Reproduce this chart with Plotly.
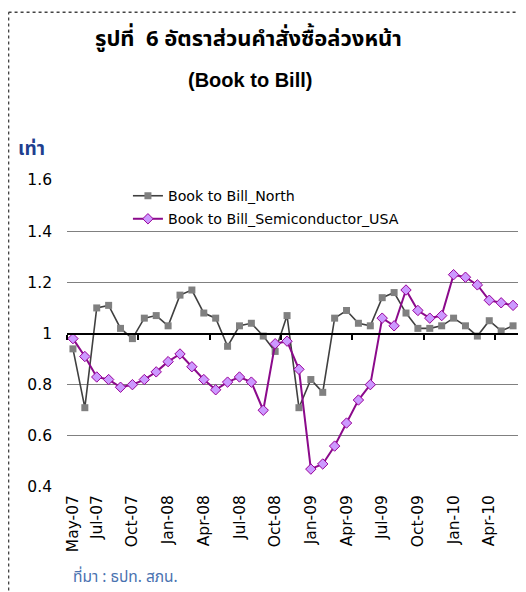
import plotly.graph_objects as go
import pandas as pd

# ---- data ----
months = [d.strftime("%b-%y") for d in pd.date_range("2007-05-01", periods=38, freq="MS")]
north = [0.94, 0.71, 1.10, 1.11, 1.02, 0.98, 1.06, 1.07, 1.03, 1.15, 1.17, 1.08, 1.06,
         0.95, 1.03, 1.04, 0.99, 0.93, 1.07, 0.71, 0.82, 0.77, 1.06, 1.09, 1.04, 1.03,
         1.14, 1.16, 1.08, 1.02, 1.02, 1.03, 1.06, 1.03, 0.99, 1.05, 1.01, 1.03]
semi = [0.98, 0.91, 0.83, 0.82, 0.79, 0.80, 0.82, 0.85, 0.89, 0.92, 0.87, 0.82, 0.78,
        0.81, 0.83, 0.81, 0.70, 0.96, 0.97, 0.86, 0.47, 0.49, 0.56, 0.65, 0.74, 0.80,
        1.06, 1.03, 1.17, 1.09, 1.06, 1.07, 1.23, 1.22, 1.19, 1.13, 1.12, 1.11]
tick_labels = ["May-07", "Jul-07", "Oct-07", "Jan-08", "Apr-08", "Jul-08", "Oct-08",
               "Jan-09", "Apr-09", "Jul-09", "Oct-09", "Jan-10", "Apr-10"]
y_ticks = [0.4, 0.6, 0.8, 1.0, 1.2, 1.4, 1.6]
y_tick_text = ["0.4", "0.6", "0.8", "1", "1.2", "1.4", "1.6"]
y_min, y_max, x_axis_cross = 0.4, 1.6, 1.0

# page body has an 8px margin; compensate so the figure fills the window exactly
OFF = 8
W, H = 526 - OFF, 592 - OFF
# plot area in window pixels
PL, PR, PT, PB = 67, 519.5, 180, 486.7
ML, MR, MT, MB = PL - OFF, (W + OFF) - PR, PT - OFF, (H + OFF) - PB
PW = PR - PL
PH = PB - PT

def px_x(p):
    return (p - PL) / PW

def px_y(p):
    return (PB - p) / PH

FONT = "Tahoma, DejaVu Sans, sans-serif"
THAI = "Tahoma, Noto Sans Thai, Loma, Garuda, sans-serif"

fig = go.Figure()
fig.add_trace(go.Scatter(
    x=months, y=north, name="Book to Bill_North", mode="lines+markers",
    line=dict(color="#404040", width=1.6),
    marker=dict(symbol="square", size=7, color="#808080", line=dict(width=0)),
    legend="legend",
))
fig.add_trace(go.Scatter(
    x=months, y=semi, name="Book to Bill_Semiconductor_USA", mode="lines+markers",
    line=dict(color="#8B0A8B", width=2),
    marker=dict(symbol="diamond", size=8, color="#CC99FF", line=dict(color="#990099", width=1)),
    legend="legend2",
))
# invisible trace to hold the category axis line drawn where it crosses y = 1
n = len(months)
fig.add_trace(go.Scatter(x=[-0.5, n - 0.5], y=[x_axis_cross, x_axis_cross], xaxis="x2",
                         mode="lines", line=dict(width=0), showlegend=False, hoverinfo="skip"))

fig.update_layout(
    width=W, height=H,
    margin=dict(l=ML, r=MR, t=MT, b=MB),
    paper_bgcolor="white", plot_bgcolor="white",
    font=dict(family=FONT, size=15.5, color="black"),
    xaxis=dict(
        type="category", range=[-0.5, n - 0.5],
        tickmode="array", tickvals=tick_labels, ticktext=tick_labels,
        tickangle=-90, showgrid=False, showline=False, ticks="",
        ticklabelstandoff=4, tickfont=dict(size=15.5),
    ),
    xaxis2=dict(
        overlaying="x", anchor="free",
        position=(x_axis_cross - y_min) / (y_max - y_min),
        range=[-0.5, n - 0.5], showgrid=False, showline=True, linecolor="black",
        linewidth=2.2, ticks="outside", ticklen=5, tickwidth=1.5, tickcolor="black",
        tickmode="array", tickvals=[-0.5 + 6 * k for k in range(7)],
        showticklabels=False, zeroline=False,
    ),
    yaxis=dict(
        range=[y_min, y_max], tickmode="array", tickvals=y_ticks, ticktext=y_tick_text,
        showgrid=True, gridcolor="#808080", gridwidth=1, zeroline=False,
        showline=False, ticks="", ticklabelstandoff=14, tickfont=dict(size=15.5),
    ),
    legend=dict(x=px_x(128), y=px_y(196), xanchor="left", yanchor="middle",
                bgcolor="rgba(0,0,0,0)", font=dict(size=14.2, family=FONT)),
    legend2=dict(x=px_x(128), y=px_y(219), xanchor="left", yanchor="middle",
                 bgcolor="rgba(0,0,0,0)", font=dict(size=14.2, family=FONT)),
    showlegend=True,
)

fig.add_annotation(text="<b>รูปที่  6 อัตราส่วนคำสั่งซื้อล่วงหน้า</b>", xref="paper", yref="paper",
                   x=px_x(249), y=px_y(40), showarrow=False, xanchor="center", yanchor="middle",
                   font=dict(family=THAI, size=22, color="black"))
fig.add_annotation(text="<b>(Book to Bill)</b>", xref="paper", yref="paper",
                   x=px_x(250), y=px_y(80), showarrow=False, xanchor="center", yanchor="middle",
                   font=dict(family="Arial, Liberation Sans, sans-serif", size=20, color="black"))
fig.add_annotation(text="<b>เท่า</b>", xref="paper", yref="paper",
                   x=px_x(16), y=px_y(150), showarrow=False, xanchor="left", yanchor="middle",
                   font=dict(family=THAI, size=19, color="#1F3F8F"))
fig.add_annotation(text="ที่มา : ธปท. สภน.", xref="paper", yref="paper",
                   x=px_x(71), y=px_y(577), showarrow=False, xanchor="left", yanchor="middle",
                   font=dict(family=THAI, size=15.5, color="#4A72B0"))

# dotted chart border: left and top edges
border = dict(color="#444444", width=1.5, dash="dot")
fig.add_shape(type="line", xref="paper", yref="paper",
              x0=px_x(8.5), x1=px_x(8.5), y0=px_y(620), y1=px_y(12.5),
              line=border)
fig.add_shape(type="line", xref="paper", yref="paper",
              x0=px_x(8.5), x1=px_x(540), y0=px_y(12.5), y1=px_y(12.5),
              line=border)

fig.write_html("out.html")
